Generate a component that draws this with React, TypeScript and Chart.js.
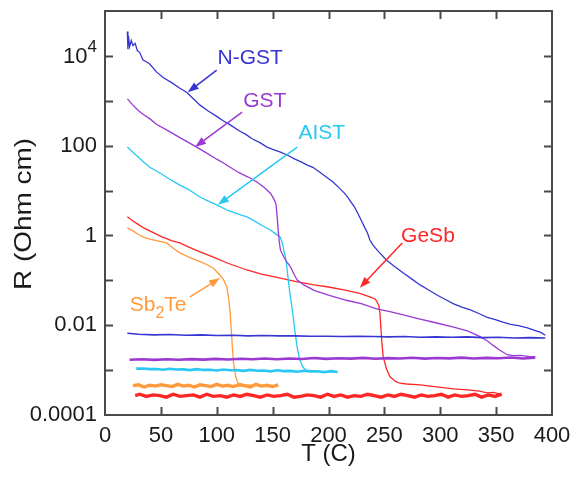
import React, { useEffect, useRef } from "react";
import { Chart, registerables } from "chart.js";
Chart.register(...registerables);

// ---------- data ----------
const xTicks = [0, 50, 100, 150, 200, 250, 300, 350, 400];
const yTicks = [1e-4, 1e-3, 1e-2, 1e-1, 1, 10, 100, 1e3, 1e4, 1e5];
const yTickLabels = ["0.0001", "", "0.01", "", "1", "", "100", "", "10^4", ""];

// N-GST heating
const nGstT = [20, 20.5, 21, 22, 23.5, 25, 27, 29, 31, 34, 37, 40, 46, 52, 60, 67, 73, 80, 85, 92, 100, 106, 112, 120, 126, 132, 139, 145, 150, 157, 163, 170, 176, 181, 186, 192, 198, 204, 210, 214, 217, 220, 223, 226, 230, 233, 235, 237, 240, 245, 252, 260, 267, 275, 282, 290, 297, 305, 312, 320, 327, 335, 342, 350, 356, 363, 370, 378, 385, 390, 394];
const nGstR = [35000, 14000, 28000, 16000, 22000, 17000, 19000, 13000, 12000, 8100, 7400, 6600, 4400, 3300, 2500, 1900, 1550, 1050, 800, 600, 450, 355, 290, 215, 178, 141, 115, 93, 83, 72, 62, 50, 43, 37, 33, 26, 20, 15.5, 11.2, 8.9, 7.2, 5.6, 4.4, 3.2, 2.0, 1.4, 1.12, 0.79, 0.6, 0.43, 0.28, 0.195, 0.145, 0.105, 0.079, 0.06, 0.047, 0.037, 0.03, 0.025, 0.022, 0.018, 0.015, 0.0132, 0.0117, 0.0105, 0.0098, 0.0087, 0.0076, 0.0069, 0.006];
// N-GST cooling
const nGstCoolT = [394, 380, 366, 352, 338, 324, 310, 296, 282, 268, 254, 240, 226, 212, 198, 184, 170, 156, 142, 128, 114, 100, 86, 72, 58, 44, 30, 20];
const nGstCoolR = [0.0052, 0.0053, 0.0052, 0.0054, 0.0053, 0.0055, 0.0054, 0.0055, 0.0054, 0.0056, 0.0055, 0.0056, 0.0057, 0.0056, 0.0057, 0.0057, 0.0058, 0.0058, 0.0059, 0.0058, 0.006, 0.0059, 0.0061, 0.006, 0.0062, 0.0061, 0.0063, 0.0066];

// GST heating
const gstT = [20, 25, 30, 35, 40, 46, 55, 62, 67, 75, 82, 90, 100, 106, 112, 120, 128, 136, 142, 148, 151, 153, 154, 155, 156, 157, 160, 163, 166, 169, 172, 178, 187, 200, 216, 230, 243, 255, 267, 280, 295, 312, 325, 336, 342, 347, 353, 360, 365, 372, 380, 385];
const gstR = [1100, 800, 600, 480, 400, 300, 225, 178, 151, 117, 93, 71, 50, 41, 33, 25, 20, 15.5, 12, 8.7, 6.6, 5.0, 2.8, 1.3, 0.71, 0.47, 0.33, 0.25, 0.2, 0.138, 0.102, 0.079, 0.06, 0.047, 0.036, 0.03, 0.023, 0.02, 0.017, 0.0141, 0.0115, 0.0091, 0.0074, 0.0055, 0.0045, 0.0036, 0.0028, 0.0022, 0.0021, 0.00214, 0.002, 0.002];
// GST cooling
const gstCoolT = [385, 374, 363, 352, 341, 330, 319, 308, 297, 286, 275, 264, 253, 242, 231, 220, 209, 198, 187, 176, 165, 154, 143, 132, 121, 110, 99, 88, 77, 66, 55, 44, 33, 22];
const gstCoolR = [0.00188, 0.00182, 0.00191, 0.00184, 0.00187, 0.00181, 0.0019, 0.00183, 0.00186, 0.0018, 0.00188, 0.00181, 0.00185, 0.00179, 0.00187, 0.0018, 0.00184, 0.00178, 0.00186, 0.00177, 0.00182, 0.00175, 0.00181, 0.00174, 0.00179, 0.00172, 0.00178, 0.00171, 0.00176, 0.0017, 0.00175, 0.00169, 0.00174, 0.0017];

// AIST heating
const aistT = [20, 25, 30, 35, 40, 50, 60, 67, 75, 85, 92, 100, 110, 120, 127, 135, 142, 148, 153, 157, 159, 160, 162, 163, 165, 168, 170, 172, 174, 177, 180, 190, 200, 208];
const aistR = [93, 71, 55, 42, 33, 24, 16.6, 13.2, 10.5, 7.2, 5.9, 4.8, 3.6, 2.95, 2.6, 2.0, 1.58, 1.32, 1.07, 0.91, 0.63, 0.47, 0.28, 0.17, 0.063, 0.0186, 0.0071, 0.0032, 0.00178, 0.00117, 0.001, 0.00095, 0.00093, 0.00091];
// AIST cooling
const aistCoolT = [208, 202, 196, 190, 184, 178, 172, 166, 160, 154, 148, 142, 136, 130, 124, 118, 112, 106, 100, 94, 88, 82, 76, 70, 64, 58, 52, 46, 40, 34, 28];
const aistCoolR = [0.00091, 0.00095, 0.0009, 0.00094, 0.00093, 0.00097, 0.00092, 0.00096, 0.00095, 0.00099, 0.00094, 0.00098, 0.00097, 0.00101, 0.00096, 0.001, 0.00099, 0.00103, 0.00098, 0.00102, 0.00101, 0.00105, 0.001, 0.00104, 0.00103, 0.00107, 0.00102, 0.00106, 0.00105, 0.00109, 0.00108];

// GeSb heating
const geSbT = [20, 25, 30, 35, 40, 50, 60, 67, 75, 85, 97, 110, 127, 140, 157, 170, 187, 200, 216, 228, 237, 242, 245, 246, 247, 248, 249, 252, 255, 260, 264, 270, 282, 295, 312, 327, 335, 342, 348, 355];
const geSbR = [2.6, 2.1, 1.74, 1.45, 1.26, 0.95, 0.76, 0.68, 0.55, 0.43, 0.33, 0.24, 0.17, 0.138, 0.112, 0.095, 0.079, 0.071, 0.06, 0.051, 0.043, 0.038, 0.028, 0.0186, 0.0079, 0.0035, 0.00195, 0.00105, 0.00071, 0.00056, 0.00051, 0.00049, 0.00047, 0.00043, 0.00038, 0.00036, 0.00034, 0.00031, 0.00032, 0.00028];
// GeSb cooling
const geSbCoolT = [355, 349, 343, 337, 331, 325, 319, 313, 307, 301, 295, 289, 283, 277, 271, 265, 259, 253, 247, 241, 235, 229, 223, 217, 211, 205, 199, 193, 187, 181, 175, 169, 163, 157, 151, 145, 139, 133, 127, 121, 115, 109, 103, 97, 91, 85, 79, 73, 67, 61, 55, 49, 43, 37, 31, 27];
const geSbCoolR = [0.00029, 0.00026, 0.00028, 0.00025, 0.00029, 0.00027, 0.00026, 0.00028, 0.00025, 0.00029, 0.00027, 0.00026, 0.00028, 0.00025, 0.00027, 0.00029, 0.00026, 0.00028, 0.00025, 0.00027, 0.00029, 0.00026, 0.00027, 0.00025, 0.00028, 0.00026, 0.00029, 0.00025, 0.00027, 0.00028, 0.00026, 0.00025, 0.00029, 0.00027, 0.00026, 0.00028, 0.00025, 0.00027, 0.00029, 0.00026, 0.00028, 0.00025, 0.00027, 0.00026, 0.00029, 0.00025, 0.00028, 0.00027, 0.00026, 0.00029, 0.00025, 0.00027, 0.00028, 0.00026, 0.00029, 0.00027];

// Sb2Te heating
const sb2TeT = [20, 25, 30, 35, 40, 55, 62, 67, 75, 85, 92, 97, 103, 106, 109, 111, 112, 113, 114, 115, 117, 119, 125, 140, 155];
const sb2TeR = [1.45, 1.26, 1.05, 0.91, 0.83, 0.68, 0.5, 0.41, 0.33, 0.26, 0.22, 0.186, 0.13, 0.105, 0.071, 0.035, 0.0186, 0.0079, 0.0032, 0.00145, 0.00071, 0.00051, 0.00047, 0.00045, 0.00044];
// Sb2Te cooling
const sb2TeCoolT = [155, 150, 145, 140, 135, 130, 125, 120, 115, 110, 105, 100, 95, 90, 85, 80, 75, 70, 65, 60, 55, 50, 45, 40, 35, 30, 25];
const sb2TeCoolR = [0.00047, 0.00043, 0.00046, 0.00044, 0.00048, 0.00042, 0.00045, 0.00047, 0.00043, 0.00046, 0.00044, 0.00048, 0.00043, 0.00045, 0.00047, 0.00042, 0.00046, 0.00044, 0.00048, 0.00043, 0.00045, 0.00047, 0.00044, 0.00046, 0.00042, 0.00047, 0.00045];

// ---------- styles ----------
const C_BLUE = "#3636d2";
const C_PURPLE = "#9a3ad2";
const C_CYAN = "#28c8f2";
const C_RED = "#ff2626";
const C_ORANGE = "#ff9a3c";
const FONT = "'Liberation Sans', Arial, Helvetica, sans-serif";

// label annotations (data coordinates)
const labels = [
  { parts: [{ t: "N-GST" }], color: C_BLUE, x: 130, y: 8900, ax: 100, ay: 4800, bx: 74, by: 1550 },
  { parts: [{ t: "GST" }], color: C_PURPLE, x: 143, y: 980, ax: 122.7, ay: 560, bx: 80.6, by: 93 },
  { parts: [{ t: "AIST" }], color: C_CYAN, x: 194, y: 190, ax: 172, ay: 93, bx: 101, by: 4.8 },
  { parts: [{ t: "GeSb" }], color: C_RED, x: 289, y: 0.98, ax: 266, ay: 0.68, bx: 228, by: 0.068 },
  { parts: [{ t: "Sb" }, { t: "2", sub: true }, { t: "Te" }], color: C_ORANGE, x: 47.5, y: 0.028, ax: 76, ay: 0.043, bx: 103, by: 0.112 },
];

const zip = (xs: number[], ys: number[]) => xs.map((x, i) => ({ x, y: ys[i] }));

const frameAndLabels = {
  id: "frameAndLabels",
  afterDraw(chart: any) {
    const { ctx, chartArea: a, scales } = chart;
    const xs = scales.x;
    const ys = scales.y;
    ctx.save();
    // frame
    ctx.strokeStyle = "#4a4a4a";
    ctx.lineWidth = 2;
    ctx.strokeRect(a.left, a.top, a.right - a.left, a.bottom - a.top);
    // inward ticks
    const tl = 8;
    ctx.beginPath();
    xTicks.forEach((v) => {
      if (v === xTicks[0] || v === xTicks[xTicks.length - 1]) return;
      const px = Math.round(xs.getPixelForValue(v)) + 0.5;
      ctx.moveTo(px, a.bottom);
      ctx.lineTo(px, a.bottom - tl);
      ctx.moveTo(px, a.top);
      ctx.lineTo(px, a.top + tl);
    });
    yTicks.forEach((v) => {
      if (v === yTicks[0] || v === yTicks[yTicks.length - 1]) return;
      const py = Math.round(ys.getPixelForValue(v)) + 0.5;
      ctx.moveTo(a.left, py);
      ctx.lineTo(a.left + tl, py);
      ctx.moveTo(a.right, py);
      ctx.lineTo(a.right - tl, py);
    });
    ctx.stroke();

    // superscript tick labels
    ctx.fillStyle = "#1a1a1a";
    ctx.textBaseline = "middle";
    yTickLabels.forEach((lab, i) => {
      if (!lab.includes("^")) return;
      const [base, exp] = lab.split("^");
      const py = ys.getPixelForValue(yTicks[i]);
      ctx.font = `17px ${FONT}`;
      const ew = ctx.measureText(exp).width;
      const right = a.left - 8;
      ctx.textAlign = "right";
      ctx.fillText(exp, right, py - 9);
      ctx.font = `22px ${FONT}`;
      ctx.fillText(base, right - ew, py + 1);
    });

    // axis titles
    ctx.fillStyle = "#1a1a1a";
    ctx.font = `24px ${FONT}`;
    ctx.textAlign = "center";
    ctx.textBaseline = "middle";
    ctx.fillText("T (C)", (a.left + a.right) / 2, 454);
    const yt = "R (Ohm cm)";
    const w = ctx.measureText(yt).width;
    ctx.save();
    ctx.translate(24, 214);
    ctx.rotate(-Math.PI / 2);
    ctx.scale(152 / w, 1);
    ctx.fillText(yt, 0, 0);
    ctx.restore();

    // annotations
    labels.forEach((l) => {
      const x1 = xs.getPixelForValue(l.ax), y1 = ys.getPixelForValue(l.ay);
      const x2 = xs.getPixelForValue(l.bx), y2 = ys.getPixelForValue(l.by);
      ctx.strokeStyle = l.color;
      ctx.fillStyle = l.color;
      ctx.lineWidth = 1.5;
      const ang = Math.atan2(y2 - y1, x2 - x1);
      const L = 11, H = 4;
      ctx.beginPath();
      ctx.moveTo(x1, y1);
      ctx.lineTo(x2 - Math.cos(ang) * (L - 2), y2 - Math.sin(ang) * (L - 2));
      ctx.stroke();
      ctx.beginPath();
      ctx.moveTo(x2, y2);
      ctx.lineTo(x2 - Math.cos(ang) * L - Math.sin(ang) * H, y2 - Math.sin(ang) * L + Math.cos(ang) * H);
      ctx.lineTo(x2 - Math.cos(ang) * L + Math.sin(ang) * H, y2 - Math.sin(ang) * L - Math.cos(ang) * H);
      ctx.closePath();
      ctx.fill();
      // text
      const cx = xs.getPixelForValue(l.x), cy = ys.getPixelForValue(l.y);
      let total = 0;
      l.parts.forEach((p: any) => {
        ctx.font = `${p.sub ? 16 : 21}px ${FONT}`;
        total += ctx.measureText(p.t).width;
      });
      let x = cx - total / 2;
      ctx.textAlign = "left";
      ctx.textBaseline = "middle";
      l.parts.forEach((p: any) => {
        ctx.font = `${p.sub ? 16 : 21}px ${FONT}`;
        ctx.fillText(p.t, x, cy + (p.sub ? 8 : 0));
        x += ctx.measureText(p.t).width;
      });
    });
    ctx.restore();
  },
};

export default function App() {
  const ref = useRef<HTMLCanvasElement | null>(null);
  useEffect(() => {
    if (!ref.current) return;
    const line = (data: any[], color: string, width: number) => ({
      data,
      borderColor: color,
      backgroundColor: color,
      borderWidth: width,
      pointRadius: 0,
      tension: 0,
      fill: false,
    });
    const chart = new Chart(ref.current, {
      type: "line",
      data: {
        datasets: [
          line(zip(nGstCoolT, nGstCoolR), C_BLUE, 1.6),
          line(zip(gstCoolT, gstCoolR), C_PURPLE, 2.6),
          line(zip(aistCoolT, aistCoolR), C_CYAN, 2.6),
          line(zip(sb2TeCoolT, sb2TeCoolR), C_ORANGE, 3.4),
          line(zip(geSbCoolT, geSbCoolR), C_RED, 3.4),
          line(zip(nGstT, nGstR), C_BLUE, 1.3),
          line(zip(gstT, gstR), C_PURPLE, 1.3),
          line(zip(aistT, aistR), C_CYAN, 1.3),
          line(zip(geSbT, geSbR), C_RED, 1.3),
          line(zip(sb2TeT, sb2TeR), C_ORANGE, 1.3),
        ],
      },
      options: {
        animation: false,
        responsive: true,
        maintainAspectRatio: false,
        layout: { padding: { top: 11, right: 24, left: 0, bottom: 0 } },
        plugins: { legend: { display: false }, tooltip: { enabled: false } },
        scales: {
          x: {
            type: "linear",
            min: 0,
            max: 400,
            afterBuildTicks: (s: any) => {
              s.ticks = xTicks.map((v) => ({ value: v }));
            },
            afterFit: (s: any) => {
              s.height = 62;
              s.paddingLeft = 0;
              s.paddingRight = 0;
            },
            grid: { display: false, drawTicks: false },
            border: { display: false },
            ticks: {
              padding: 8,
              maxRotation: 0,
              autoSkip: false,
              color: "#1a1a1a",
              font: { family: FONT, size: 22 },
              callback: (v: any) => String(v),
            },
          },
          y: {
            type: "logarithmic",
            min: 1e-4,
            max: 1e5,
            afterBuildTicks: (s: any) => {
              s.ticks = yTicks.map((v) => ({ value: v }));
            },
            afterFit: (s: any) => {
              s.width = 105;
              s.paddingTop = 0;
              s.paddingBottom = 0;
            },
            grid: { display: false, drawTicks: false },
            border: { display: false },
            ticks: {
              padding: 8,
              autoSkip: false,
              color: "#1a1a1a",
              font: { family: FONT, size: 22 },
              callback: (_v: any, i: number) => {
                const lab = yTickLabels[i] || "";
                return lab.includes("^") ? "" : lab;
              },
            },
          },
        },
      },
      plugins: [frameAndLabels],
    } as any);
    return () => chart.destroy();
  }, []);
  return (
    <div style={{ position: "absolute", left: 0, top: 0, width: 576, height: 477, background: "#fff" }}>
      <canvas ref={ref} />
    </div>
  );
}
